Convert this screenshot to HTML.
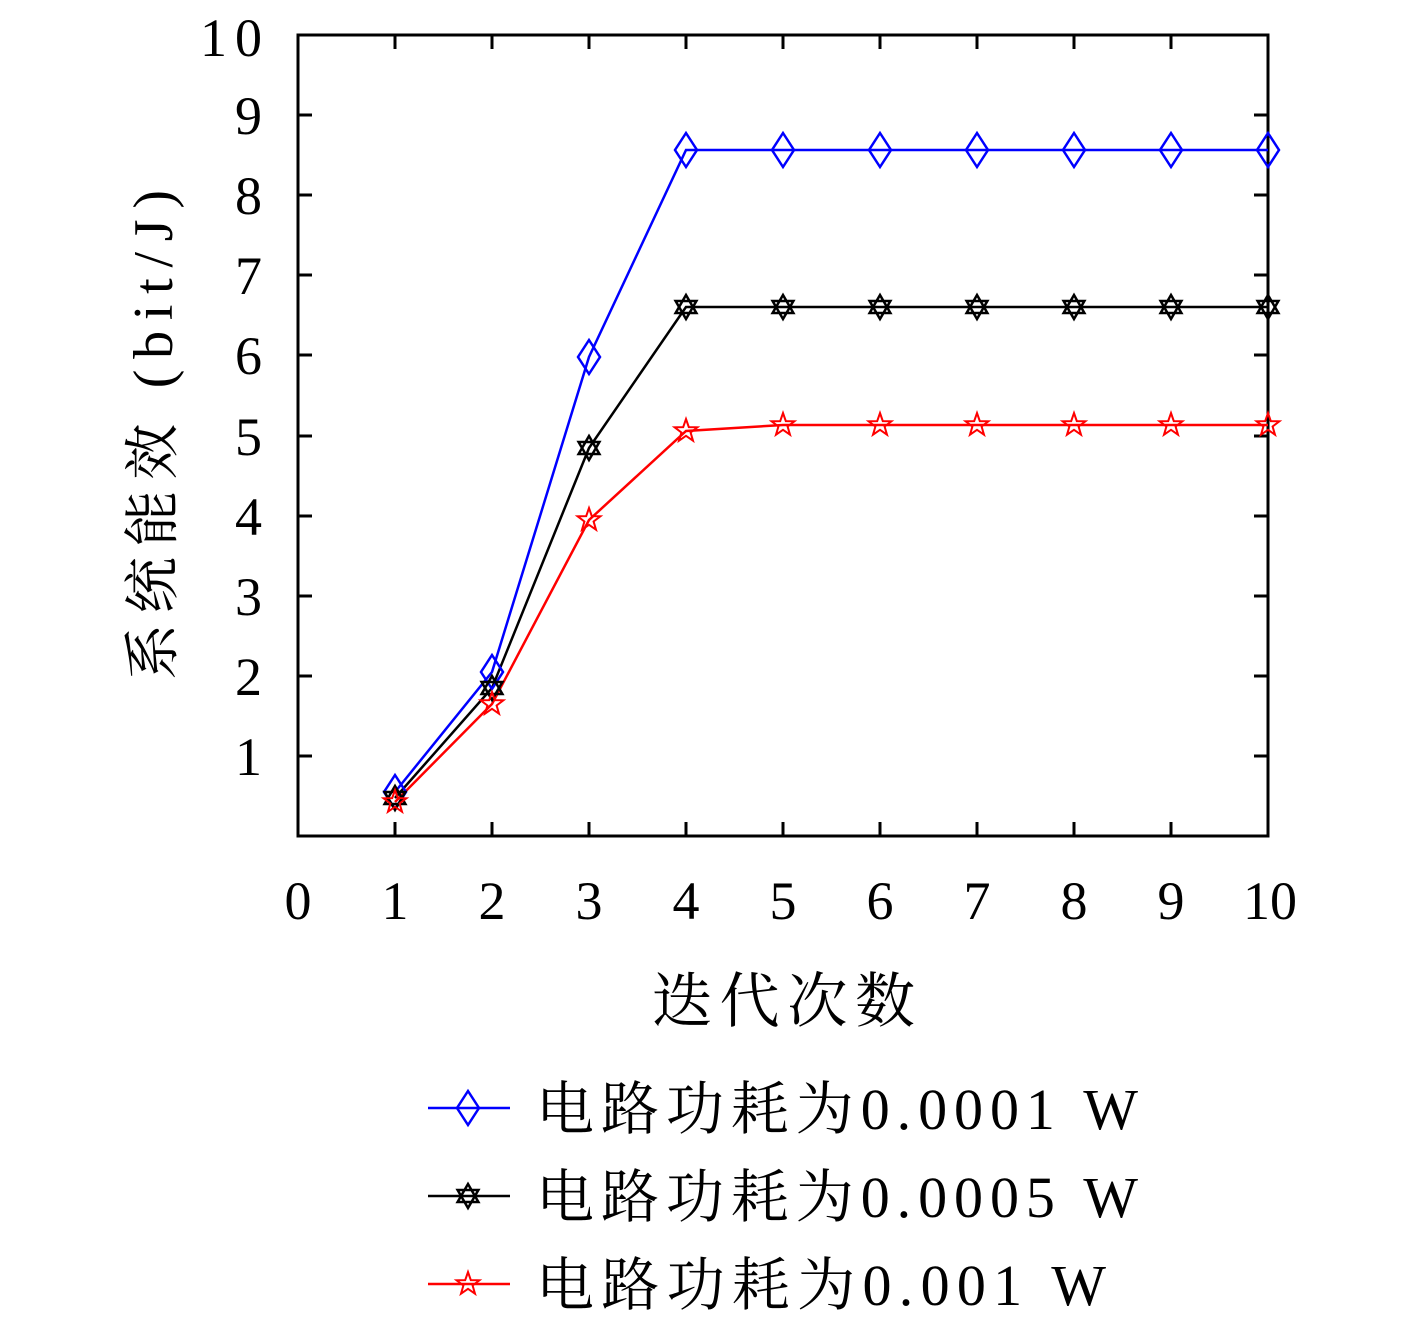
<!DOCTYPE html>
<html><head><meta charset="utf-8"><style>body{margin:0;background:#fff}</style></head><body>
<svg width="1417" height="1323" xmlns="http://www.w3.org/2000/svg" font-family="'Liberation Serif','Noto Serif CJK SC',serif">
<defs>
<path id="dia" d="M0,-17 L11,0 L0,17 L-11,0 Z" fill="none" stroke-width="2.5"/>
<path id="hex" d="M0,-12 L10.4,6 L-10.4,6 Z M0,12 L10.4,-6 L-10.4,-6 Z" fill="none" stroke-width="2.5"/>
<path id="star" d="M0,-12 L2.8,-3.9 L11.4,-3.7 L4.6,1.5 L7,9.7 L0,4.8 L-7,9.7 L-4.6,1.5 L-11.4,-3.7 L-2.8,-3.9 Z" fill="none" stroke-width="2"/>
</defs>
<g stroke="#000" stroke-width="3" fill="none">
<rect x="298" y="35" width="970" height="801"/>
<path d="M395,836v-14M492,836v-14M589,836v-14M686,836v-14M783,836v-14M880,836v-14M977,836v-14M1074,836v-14M1171,836v-14
M395,35v14M492,35v14M589,35v14M686,35v14M783,35v14M880,35v14M977,35v14M1074,35v14M1171,35v14
M298,756h14M298,676h14M298,596h14M298,516h14M298,436h14M298,355h14M298,275h14M298,195h14M298,115h14
M1268,756h-14M1268,676h-14M1268,596h-14M1268,516h-14M1268,436h-14M1268,355h-14M1268,275h-14M1268,195h-14M1268,115h-14"/>
</g>
<g font-size="54" text-anchor="end">
<text x="262" y="775">1</text><text x="262" y="695">2</text><text x="262" y="615">3</text><text x="262" y="535">4</text><text x="262" y="455">5</text><text x="262" y="374">6</text><text x="262" y="294">7</text><text x="262" y="214">8</text><text x="262" y="134">9</text><text x="262" y="56" textLength="62">10</text>
</g>
<g font-size="54" text-anchor="middle">
<text x="298" y="919">0</text><text x="395" y="919">1</text><text x="492" y="919">2</text><text x="589" y="919">3</text><text x="686" y="919">4</text><text x="783" y="919">5</text><text x="880" y="919">6</text><text x="977" y="919">7</text><text x="1074" y="919">8</text><text x="1171" y="919">9</text><text x="1270" y="919">10</text>
</g>
<text x="652" y="1022" font-size="60" textLength="263">迭代次数</text>
<text transform="translate(172,680) rotate(-90)" font-size="56" textLength="490">系统能效 (bit/J)</text>
<g fill="none" stroke-width="2.5">
<polyline stroke="#00f" points="395,792 492,672 589,357 686,150 783,150 880,150 977,150 1074,150 1171,150 1268,150"/>
<polyline stroke="#000" points="395,798 492,688 589,448 686,307 783,307 880,307 977,307 1074,307 1171,307 1268,307"/>
<polyline stroke="#f00" points="395,802 492,704 589,520 686,431 783,425 880,425 977,425 1074,425 1171,425 1268,425"/>
</g>
<g stroke="#00f"><use href="#dia" x="395" y="792"/><use href="#dia" x="492" y="672"/><use href="#dia" x="589" y="357"/><use href="#dia" x="686" y="150"/><use href="#dia" x="783" y="150"/><use href="#dia" x="880" y="150"/><use href="#dia" x="977" y="150"/><use href="#dia" x="1074" y="150"/><use href="#dia" x="1171" y="150"/><use href="#dia" x="1268" y="150"/></g>
<g stroke="#000"><use href="#hex" x="395" y="798"/><use href="#hex" x="492" y="688"/><use href="#hex" x="589" y="448"/><use href="#hex" x="686" y="307"/><use href="#hex" x="783" y="307"/><use href="#hex" x="880" y="307"/><use href="#hex" x="977" y="307"/><use href="#hex" x="1074" y="307"/><use href="#hex" x="1171" y="307"/><use href="#hex" x="1268" y="307"/></g>
<g stroke="#f00"><use href="#star" x="395" y="802"/><use href="#star" x="492" y="704"/><use href="#star" x="589" y="520"/><use href="#star" x="686" y="431"/><use href="#star" x="783" y="425"/><use href="#star" x="880" y="425"/><use href="#star" x="977" y="425"/><use href="#star" x="1074" y="425"/><use href="#star" x="1171" y="425"/><use href="#star" x="1268" y="425"/></g>
<g stroke-width="2.5">
<line x1="428" y1="1108" x2="510" y2="1108" stroke="#00f"/><use href="#dia" x="468" y="1108" stroke="#00f"/>
<line x1="428" y1="1196" x2="510" y2="1196" stroke="#000"/><use href="#hex" x="468" y="1196" stroke="#000"/>
<line x1="428" y1="1284" x2="510" y2="1284" stroke="#f00"/><use href="#star" x="468" y="1284" stroke="#f00"/>
</g>
<g font-size="58">
<text x="536" y="1129" textLength="602">电路功耗为0.0001 W</text>
<text x="536" y="1217" textLength="602">电路功耗为0.0005 W</text>
<text x="536" y="1305" textLength="570">电路功耗为0.001 W</text>
</g>
</svg>
</body></html>
